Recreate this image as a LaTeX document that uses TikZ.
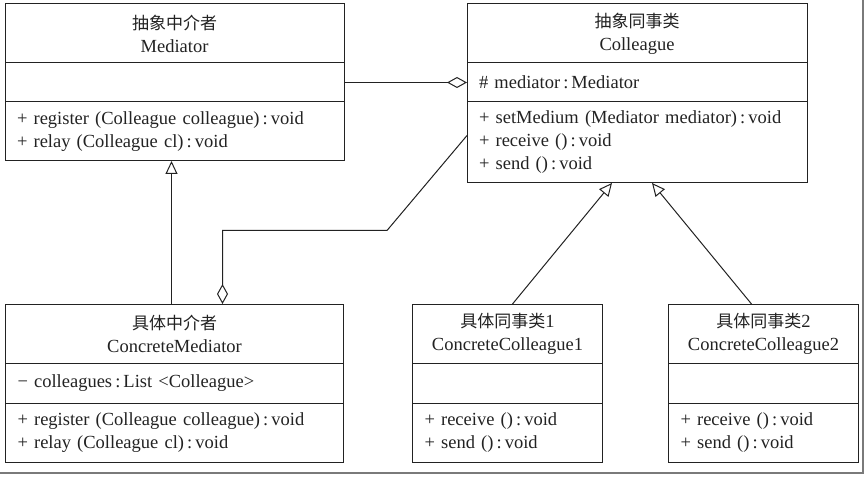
\documentclass[tikz,border=0pt]{standalone}
\usepackage{fontspec}
\setmainfont{Liberation Serif}
\newfontfamily\cjk{Noto Sans CJK SC}
\usepackage{tikz}
\usetikzlibrary{arrows.meta, positioning, calc}
\definecolor{umlline}{HTML}{222222}
\definecolor{umlframe}{HTML}{7A7A7A}
\tikzset{
  part/.style={draw=umlline, line width=1pt, outer sep=0pt, inner xsep=12pt,
               inner ysep=0pt, text=umlline, font=\fontsize{18.5}{23}\selectfont},
  head/.style={part, align=center},
  member/.style={part, align=left},
  gen/.style={-{Triangle[open, length=13pt, width=12pt]}, line width=1pt, draw=umlline},
  agg/.style={-{Diamond[open, length=20pt, width=11pt]}, line width=1pt, draw=umlline},
}

\begin{document}
\begin{tikzpicture}[x=1pt, y=-1pt]
  \useasboundingbox (0,0) rectangle (867,478);
  % frame shadow
  \draw[umlframe, line width=2pt] (0,473) -- (863,473) -- (863,0);

  % top row
  \node[head, text width=315pt, minimum height=59pt, anchor=north west] (med-title) at (5,4)
    {{\cjk\fontsize{17}{21}\selectfont 抽象中介者}\\ Mediator};
  \node[member, text width=315pt, minimum height=39pt, below=0pt of med-title] (med-attr) {};
  \node[member, text width=315pt, minimum height=59pt, below=0pt of med-attr] (med-ops)
    {+ register (Colleague colleague)\,:\,void\\ + relay (Colleague cl)\,:\,void};

  \node[head, text width=316pt, minimum height=59pt, right=123pt of med-title] (col-title)
    {{\cjk\fontsize{17}{21}\selectfont 抽象同事类}\\ Colleague};
  \node[member, text width=316pt, minimum height=39pt, below=0pt of col-title] (col-attr)
    {\# mediator\,:\,Mediator};
  \node[member, text width=316pt, minimum height=81pt, below=0pt of col-attr] (col-ops)
    {+ setMedium (Mediator mediator)\,:\,void\\ + receive ()\,:\,void\\ + send ()\,:\,void};

  % bottom row
  \node[head, text width=314pt, minimum height=59pt, below=143pt of med-ops] (cmed-title)
    {{\cjk\fontsize{17}{21}\selectfont 具体中介者}\\ ConcreteMediator};
  \node[member, text width=314pt, minimum height=40pt, below=0pt of cmed-title] (cmed-attr)
    {− colleagues\,:\,List <Colleague>};
  \node[member, text width=314pt, minimum height=59pt, below=0pt of cmed-attr] (cmed-ops)
    {+ register (Colleague colleague)\,:\,void\\ + relay (Colleague cl)\,:\,void};

  \node[head, text width=166pt, minimum height=59pt, right=69pt of cmed-title] (cc1-title)
    {{\cjk\fontsize{17}{21}\selectfont 具体同事类}1\\ ConcreteColleague1};
  \node[member, text width=166pt, minimum height=40pt, below=0pt of cc1-title] (cc1-attr) {};
  \node[member, text width=166pt, minimum height=59pt, below=0pt of cc1-attr] (cc1-ops)
    {+ receive ()\,:\,void\\ + send ()\,:\,void};

  \node[head, text width=166pt, minimum height=59pt, right=66pt of cc1-title] (cc2-title)
    {{\cjk\fontsize{17}{21}\selectfont 具体同事类}2\\ ConcreteColleague2};
  \node[member, text width=166pt, minimum height=40pt, below=0pt of cc2-title] (cc2-attr) {};
  \node[member, text width=166pt, minimum height=59pt, below=0pt of cc2-attr] (cc2-ops)
    {+ receive ()\,:\,void\\ + send ()\,:\,void};

  % connectors
  \coordinate (col-in1) at ([xshift=-25pt]col-ops.south);
  \coordinate (col-in2) at ([xshift=15pt]col-ops.south);
  \draw[agg] (med-attr.east) -- (col-attr.west);
  \draw[gen] ([xshift=-3pt]cmed-title.north) -- ([xshift=-3pt]med-ops.south);
  \draw[agg] ([yshift=7pt]col-ops.west) -- ++(-80,95) -| ([xshift=48pt]cmed-title.north);
  \draw[gen] ([xshift=5pt]cc1-title.north) -- (col-in1);
  \draw[gen] ([xshift=-12pt]cc2-title.north) -- (col-in2);
\end{tikzpicture}
\end{document}
